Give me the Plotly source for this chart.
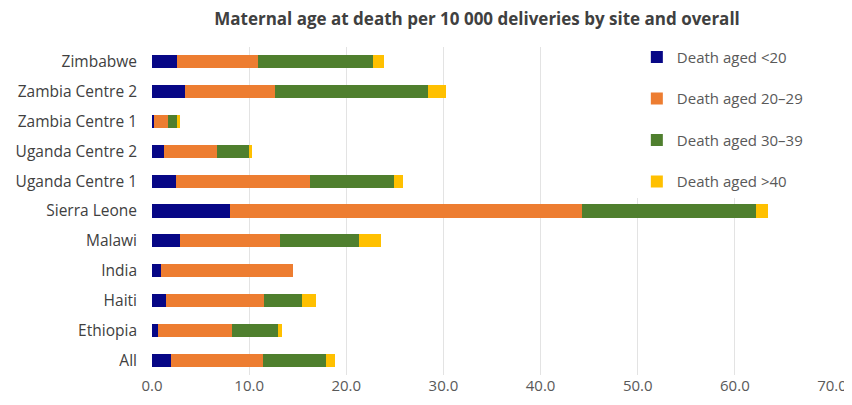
import plotly.graph_objects as go

sites = ["Zimbabwe", "Zambia Centre 2", "Zambia Centre 1", "Uganda Centre 2", "Uganda Centre 1",
         "Sierra Leone", "Malawi", "India", "Haiti", "Ethiopia", "All"]
aged_lt20 = [2.6, 3.4, 0.2, 1.2, 2.5, 8.0, 2.9, 0.9, 1.4, 0.65, 2.0]
aged_20_29 = [8.35, 9.3, 1.45, 5.5, 13.8, 36.3, 10.3, 13.6, 10.1, 7.55, 9.45]
aged_30_39 = [11.8, 15.7, 0.95, 3.3, 8.6, 17.9, 8.1, 0.0, 3.95, 4.8, 6.5]
aged_gt40 = [1.1, 1.9, 0.25, 0.25, 0.9, 1.2, 2.3, 0.0, 1.4, 0.4, 0.9]

series_names = ["Death aged <20", "Death aged 20\u201329", "Death aged 30\u201339", "Death aged >40"]
series_values = [aged_lt20, aged_20_29, aged_30_39, aged_gt40]
colors = ["#070786", "#ED7D31", "#4F7F2E", "#FFC000"]

fig = go.Figure()
for i, (name, vals, col) in enumerate(zip(series_names, series_values, colors)):
    fig.add_trace(go.Bar(y=sites, x=vals, name=name, orientation="h",
                         marker=dict(color=col, line=dict(width=0)),
                         legendgroup=f"g{i}"))

font_family = "Open Sans, Lato, sans-serif"
fig.update_layout(
    barmode="stack",
    bargap=0.56,
    width=852, height=405,
    margin=dict(l=144, r=28, t=39, b=38, autoexpand=False),
    plot_bgcolor="white", paper_bgcolor="white",
    font=dict(family=font_family, size=14, color="#595959"),
    title=dict(text="<b>Maternal age at death per 10 000 deliveries by site and overall</b>",
               x=469/852, xanchor="center", xref="container", y=1 - 11/405, yref="container",
               yanchor="middle",
               font=dict(family=font_family, size=17, color="#404040")),
    legend=dict(x=0.713, xanchor="left", y=1.019, yanchor="top", traceorder="grouped",
                tracegroupgap=19, bgcolor="white", font=dict(size=15, color="#595959"),
                itemwidth=30),
    xaxis=dict(range=[0, 70], dtick=10, tickformat=".1f", showgrid=True, gridcolor="#E3E3E3",
               gridwidth=1, zeroline=False, showline=False, ticks="", automargin=False,
               tickfont=dict(size=15, color="#595959")),
    yaxis=dict(autorange="reversed", showgrid=False, showline=False, ticks="",
               automargin=False, ticklabelstandoff=14, tickfont=dict(size=15.5, color="#404040")),
)
fig.update_xaxes(layer="below traces")
fig.write_html("out.html")
